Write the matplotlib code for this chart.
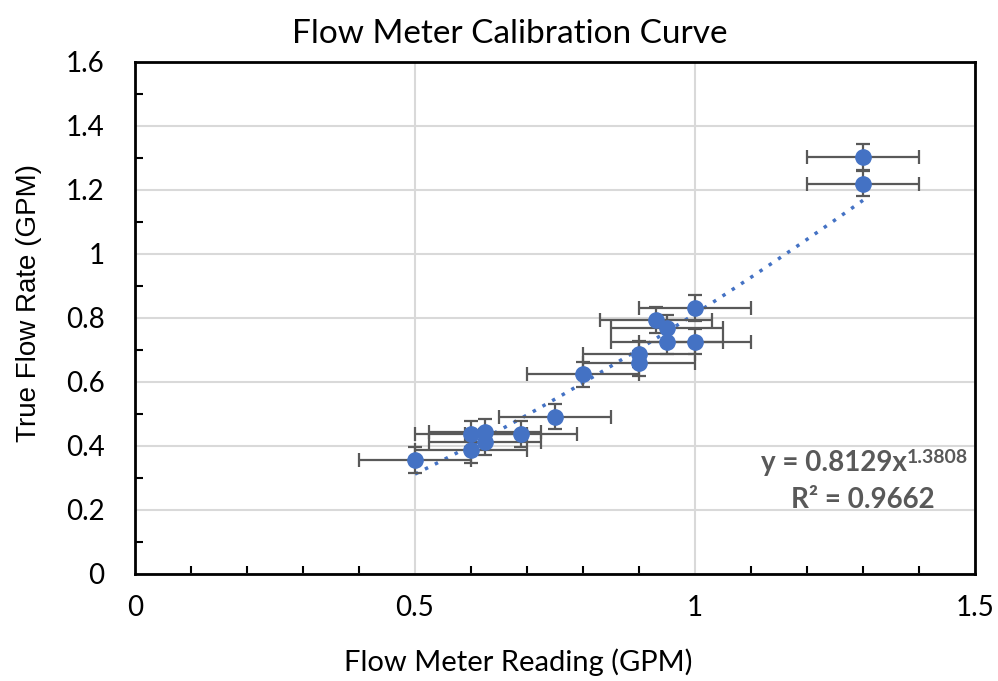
import numpy as np
import matplotlib
matplotlib.use("Agg")
import matplotlib.pyplot as plt
from matplotlib.ticker import MultipleLocator

# Calibration readings (GPM)
meter_reading = [0.5, 0.6, 0.6, 0.625, 0.625, 0.69, 0.75, 0.8, 0.9, 0.9,
                 0.93, 0.95, 0.95, 1.0, 1.0, 1.3, 1.3]
true_flow = [0.356, 0.388, 0.438, 0.443, 0.413, 0.437, 0.492, 0.624, 0.687, 0.658,
             0.794, 0.768, 0.726, 0.832, 0.726, 1.304, 1.220]
x_err = 0.1
y_err = 0.04

# Power trendline coefficients
fit_a = 0.8129
fit_b = 1.3808
fit_r2 = 0.9662

plt.rcParams["font.family"] = ["Lato", "DejaVu Sans"]

fig = plt.figure(figsize=(9.98, 6.81), dpi=100)
ax = fig.add_axes([135 / 998, 1 - 574 / 681, 840 / 998, 512 / 681])

ax.errorbar(meter_reading, true_flow, xerr=x_err, yerr=y_err, fmt="o",
            color="#4472C4", markersize=11, ecolor="#595959", elinewidth=1.6,
            capsize=5, capthick=1.6, zorder=3)

xs = np.linspace(min(meter_reading), max(meter_reading), 200)
ax.plot(xs, fit_a * xs ** fit_b, color="#4472C4", linestyle=(0, (1, 2.2)),
        linewidth=2.5, zorder=2)

# trendline equation, exponent drawn as a separate superscript
eq = ax.text(1.379, 0.347, f"y = {fit_a}x", ha="right", va="center",
             fontsize=20, fontweight="bold", color="#595959")
ax.annotate(f"{fit_b}", xy=(1, 1), xycoords=eq, xytext=(0, 1),
            textcoords="offset points", ha="left", va="top",
            fontsize=14, fontweight="bold", color="#595959")
ax.text(1.3, 0.231, f"R² = {fit_r2}", ha="center", va="center",
        fontsize=20, fontweight="bold", color="#595959")

ax.set_xlim(0, 1.5)
ax.set_ylim(0, 1.6)
ax.xaxis.set_minor_locator(MultipleLocator(0.1))
ax.yaxis.set_minor_locator(MultipleLocator(0.1))
ax.set_xticks([0, 0.5, 1, 1.5], ["0", "0.5", "1", "1.5"])
ax.set_yticks(np.arange(0, 1.61, 0.2), ["0", "0.2", "0.4", "0.6", "0.8", "1", "1.2", "1.4", "1.6"])
ax.tick_params(which="major", length=0, labelsize=20)
ax.tick_params(axis="x", which="major", pad=15)
ax.tick_params(axis="y", which="major", pad=22)
ax.tick_params(which="minor", direction="in", length=6, width=1.5)
ax.grid(True, which="major", color="#D9D9D9", linewidth=1.5, zorder=0)
ax.set_axisbelow(True)
for spine in ax.spines.values():
    spine.set_linewidth(2)
    spine.set_color("black")

ax.set_title("Flow Meter Calibration Curve", fontsize=24, pad=14, x=0.446)
ax.set_xlabel("Flow Meter Reading (GPM)", fontsize=21, labelpad=20, x=0.456)
ax.set_ylabel("True Flow Rate (GPM)", fontsize=20, labelpad=17, y=0.529,
              family=["Liberation Sans", "DejaVu Sans"])

fig.savefig("out.png", dpi=100)
